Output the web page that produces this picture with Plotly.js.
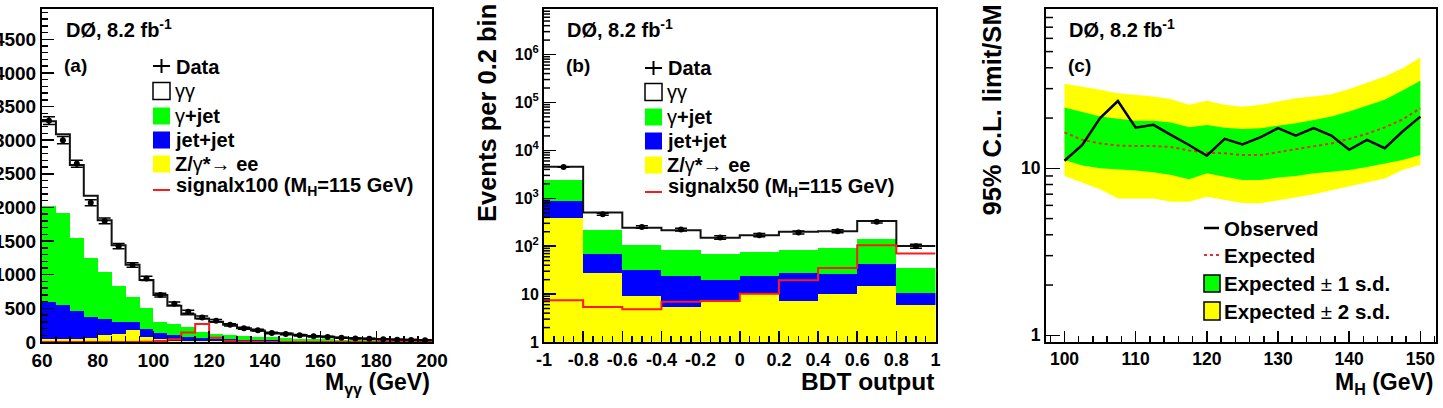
<!DOCTYPE html>
<html>
<head>
<meta charset="utf-8">
<script src="https://cdn.plot.ly/plotly-3.0.1.min.js"></script>
<style>
  html, body { margin: 0; padding: 0; background: #fff; }
  #plot { width: 1443px; height: 408px; }
</style>
</head>
<body>
<div id="plot"></div>
<script>
// ---------- (a) diphoton invariant mass, 5 GeV bins ----------
const massBinLow = [60, 65, 70, 75, 80, 85, 90, 95, 100, 105, 110, 115, 120, 125,
                    130, 135, 140, 145, 150, 155, 160, 165, 170, 175, 180, 185, 190, 195];
const massData   = [3290, 3000, 2650, 2070, 1800, 1425, 1145, 945, 697, 570, 450, 366, 316, 255,
                    205, 175, 135, 120, 100, 85, 75, 62, 52, 48, 40, 34, 30, 26];
const massGG     = [1262, 1175, 1077, 919, 766, 609, 487, 421, 400, 270, 192, 207, 181, 151,
                    116, 91, 65, 65, 53, 45, 40, 33, 28, 25, 22, 19, 17, 15];
const massGJ     = [1420, 1366, 1088, 880, 708, 529, 361, 311, 171, 166, 139, 79, 70, 64,
                    55, 51, 47, 41, 36, 32, 27, 23, 19, 16, 14, 12, 11, 9];
const massJJ     = [558, 507, 415, 311, 236, 182, 127, 108, 89, 82, 64, 54, 41, 33,
                    28, 23, 19, 16, 13, 11, 9, 7, 6, 6, 5, 4, 3, 3];
const massZee    = [40, 42, 50, 65, 100, 120, 175, 80, 40, 22, 15, 10, 8, 7,
                    6, 5, 4, 3, 3, 2, 2, 2, 2, 1, 1, 1, 1, 1];
const massSignal100 = [0, 0, 0, 0, 0, 0, 0, 2, 15, 40, 143, 267, 64, 20,
                       6, 2, 0, 0, 0, 0, 0, 0, 0, 0, 0, 0, 0, 0];

// ---------- (b) BDT output, 0.2 wide bins ----------
const bdtBinLow  = [-1, -0.8, -0.6, -0.4, -0.2, 0, 0.2, 0.4, 0.6, 0.8];
const bdtData    = [4500, 465, 252, 223, 152, 170, 194, 206, 322, 100];
const bdtGG      = [2170, 289, 136, 133, 81, 94, 114, 114, 193, 66];
const bdtGJ      = [1530, 148, 73.5, 58.5, 48, 52.5, 57.3, 65.2, 102, 24.4];
const bdtJJ      = [480, 41, 22.3, 18.1, 12.8, 13.5, 20.5, 16.8, 27.2, 4.8];
const bdtZee     = [390, 27, 9.2, 5.4, 7.2, 10, 7.2, 10, 14.8, 5.8];
const bdtSignal50 = [7.4, 5.4, 4.8, 6.9, 7.2, 10.2, 19.4, 35, 105, 70];
const bdtXTickVals = [-1, -0.8, -0.6, -0.4, -0.2, 0, 0.2, 0.4, 0.6, 0.8, 1];
const bdtXTickText = ['-1', '-0.8', '-0.6', '-0.4', '-0.2', '0', '0.2', '0.4', '0.6', '0.8', '1'];
const bdtTickVals = [1, 10, 100, 1e3, 1e4, 1e5, 1e6];
const bdtTickText = ['1', '10', '10<sup>2</sup>', '10<sup>3</sup>', '10<sup>4</sup>', '10<sup>5</sup>', '10<sup>6</sup>'];

// ---------- (c) 95% C.L. limits relative to SM ----------
const higgsMass = [100, 102.5, 105, 107.5, 110, 112.5, 115, 117.5, 120, 122.5, 125,
                   127.5, 130, 132.5, 135, 137.5, 140, 142.5, 145, 147.5, 150];
const limitObserved = [11.1, 13.8, 20.0, 25.3, 17.5, 18.2, 15.8, 13.8, 11.9, 15.0, 13.9,
                       15.3, 17.4, 15.7, 17.4, 15.7, 12.9, 14.8, 13.2, 16.6, 20.4];
const limitExpected = [16.4, 14.8, 14.1, 13.7, 13.6, 13.6, 13.4, 12.8, 12.4, 12.3, 12.0,
                       12.0, 12.5, 13.0, 13.5, 14.1, 15.0, 16.1, 17.6, 19.6, 22.9];
const limitPlus1  = [23.1, 21.6, 20.4, 19.8, 19.3, 19.3, 18.8, 17.6, 18.2, 17.5, 17.2,
                     17.4, 17.9, 18.6, 19.5, 20.4, 21.9, 23.7, 25.7, 29.2, 33.4];
const limitMinus1 = [11.2, 10.4, 10.0, 9.86, 9.7, 9.46, 9.12, 8.6, 9.33, 8.9, 8.5,
                     8.5, 8.8, 9.0, 9.33, 9.55, 9.77, 10.2, 10.7, 11.2, 12.0];
const limitPlus2  = [32.1, 30.9, 29.5, 28.2, 27.5, 26.9, 25.9, 24.0, 25.4, 24.0, 23.4,
                     24.0, 25.1, 26.3, 26.9, 27.8, 29.8, 32.4, 35.5, 39.8, 46.1];
const limitMinus2 = [9.0, 8.2, 7.5, 6.6, 6.6, 6.6, 6.3, 6.3, 6.76, 6.5, 6.2,
                     6.17, 6.45, 6.76, 7.0, 7.4, 7.8, 8.2, 8.7, 9.77, 10.5];
const limitTickVals = [1, 10];
const limitTickText = ['1', '10'];

// ---------- helpers ----------
const W = 1443, H = 408;
const FONT = 'Liberation Sans, Arial, Helvetica, sans-serif';
const GREEN = '#00ff00', BLUE = '#0000ff', YELLOW = '#ffff00', RED = '#ff1a1a';
const X = px => px / W;
const Y = py => 1 - py / H;
const PLOT_TOP = 9, PLOT_BOTTOM = 342;

function centers(low, width) { return low.map(v => v + width / 2); }

function barTrace(low, width, vals, color, xa, ya) {
  return { type: 'bar', x: centers(low, width), y: vals, width: width,
           marker: { color: color, line: { width: 0 } },
           xaxis: xa, yaxis: ya, hoverinfo: 'skip', showlegend: false };
}

function stepTrace(low, width, vals, color, lw, xa, ya) {
  const xs = low.concat([low[low.length - 1] + width]);
  const ys = vals.concat([vals[vals.length - 1]]);
  return { type: 'scatter', mode: 'lines', x: xs, y: ys,
           line: { shape: 'hv', color: color, width: lw },
           xaxis: xa, yaxis: ya, hoverinfo: 'skip', showlegend: false };
}

function dataTrace(low, width, vals, xa, ya) {
  return { type: 'scatter', mode: 'markers', x: centers(low, width), y: vals,
           marker: { color: 'black', size: 6 },
           error_y: { type: 'sqrt', visible: true, color: 'black', thickness: 1.5, width: 6 },
           xaxis: xa, yaxis: ya, hoverinfo: 'skip', showlegend: false };
}

function sumOf(...arrs) { return arrs[0].map((_, i) => arrs.reduce((s, a) => s + a[i], 0)); }

const traces = [];

// (a) stacked backgrounds
traces.push(barTrace(massBinLow, 5, massZee, YELLOW, 'x', 'y'));
traces.push(barTrace(massBinLow, 5, massJJ, BLUE, 'x', 'y'));
traces.push(barTrace(massBinLow, 5, massGJ, GREEN, 'x', 'y'));
traces.push(barTrace(massBinLow, 5, massGG, '#ffffff', 'x', 'y'));
traces.push(stepTrace(massBinLow, 5, sumOf(massZee, massJJ, massGJ, massGG), '#111', 2, 'x', 'y'));
traces.push(stepTrace(massBinLow, 5, massSignal100, RED, 2, 'x', 'y'));
traces.push(dataTrace(massBinLow, 5, massData, 'x', 'y'));

// (b) stacked backgrounds on a log scale
traces.push(barTrace(bdtBinLow, 0.2, bdtZee, YELLOW, 'x2', 'y2'));
traces.push(barTrace(bdtBinLow, 0.2, bdtJJ, BLUE, 'x2', 'y2'));
traces.push(barTrace(bdtBinLow, 0.2, bdtGJ, GREEN, 'x2', 'y2'));
traces.push(barTrace(bdtBinLow, 0.2, bdtGG, '#ffffff', 'x2', 'y2'));
traces.push(stepTrace(bdtBinLow, 0.2, sumOf(bdtZee, bdtJJ, bdtGJ, bdtGG), '#111', 2, 'x2', 'y2'));
traces.push(stepTrace(bdtBinLow, 0.2, bdtSignal50, RED, 2, 'x2', 'y2'));
traces.push(dataTrace(bdtBinLow, 0.2, bdtData, 'x2', 'y2'));

// (c) limit bands and curves
const band = (y, fill, color) => ({ type: 'scatter', mode: 'lines', x: higgsMass, y: y,
  line: { width: 0, color: color || 'rgba(0,0,0,0)' }, fill: fill || 'none', fillcolor: color,
  xaxis: 'x3', yaxis: 'y3', hoverinfo: 'skip', showlegend: false });
traces.push(band(limitMinus2));
traces.push(band(limitPlus2, 'tonexty', YELLOW));
traces.push(band(limitMinus1));
traces.push(band(limitPlus1, 'tonexty', GREEN));
traces.push({ type: 'scatter', mode: 'lines', x: higgsMass, y: limitExpected,
  line: { color: '#e0302a', width: 2, dash: 'dot' }, xaxis: 'x3', yaxis: 'y3',
  hoverinfo: 'skip', showlegend: false });
traces.push({ type: 'scatter', mode: 'lines', x: higgsMass, y: limitObserved,
  line: { color: '#000', width: 2.5 }, xaxis: 'x3', yaxis: 'y3',
  hoverinfo: 'skip', showlegend: false });

// ---------- axes ----------
const yDomain = [Y(PLOT_BOTTOM), Y(PLOT_TOP)];
function axisBase(extra) {
  return Object.assign({
    showline: true, mirror: true, linewidth: 2, linecolor: 'black',
    showgrid: false, zeroline: false, ticks: 'inside', tickcolor: 'black',
    tickwidth: 1.5, fixedrange: true,
    tickfont: { family: FONT, size: 18, color: 'black', weight: 'bold' }
  }, extra);
}

const Y2_RANGE = [0, 6.95];
const Y3_RANGE = [-0.04, 1.954];

const layout = {
  width: W, height: H,
  margin: { l: 0, r: 0, t: 0, b: 0 },
  paper_bgcolor: '#fff', plot_bgcolor: '#fff',
  barmode: 'stack', bargap: 0,
  showlegend: false,
  font: { family: FONT, color: 'black', weight: 'bold' },
  xaxis: axisBase({ domain: [X(42), X(432)], anchor: 'y', range: [60, 200],
    tickmode: 'linear', tick0: 60, dtick: 20, ticklen: 11,
    minor: { tick0: 60, dtick: 5, ticks: 'inside', ticklen: 6, tickwidth: 1.5, tickcolor: 'black' },
    tickfont: { family: FONT, size: 19, color: 'black', weight: 'bold' } }),
  yaxis: axisBase({ domain: yDomain, anchor: 'x', range: [0, 4950],
    tickmode: 'linear', tick0: 0, dtick: 500, ticklen: 12,
    minor: { tick0: 0, dtick: 100, ticks: 'inside', ticklen: 6, tickwidth: 1.5, tickcolor: 'black' },
    tickfont: { family: FONT, size: 19, color: 'black', weight: 'bold' } }),
  xaxis2: axisBase({ domain: [X(544), X(935.5)], anchor: 'y2', range: [-1, 1],
    tickmode: 'array', tickvals: bdtXTickVals, ticktext: bdtXTickText, ticklen: 11,
    minor: { tickmode: 'linear', tick0: -1, dtick: 0.05, ticks: 'inside', ticklen: 6, tickwidth: 1.5, tickcolor: 'black' } }),
  yaxis2: axisBase({ domain: yDomain, anchor: 'x2', type: 'log', range: Y2_RANGE,
    tickmode: 'array', tickvals: bdtTickVals, ticktext: bdtTickText, ticklen: 12,
    tickfont: { family: FONT, size: 16, color: 'black', weight: 'bold' } }),
  xaxis3: axisBase({ domain: [X(1046), X(1436)], anchor: 'y3', range: [97.4, 152.2],
    tickmode: 'linear', tick0: 100, dtick: 10, ticklen: 11,
    minor: { tick0: 100, dtick: 2, ticks: 'inside', ticklen: 6, tickwidth: 1.5, tickcolor: 'black' },
    tickfont: { family: FONT, size: 17.5, color: 'black', weight: 'bold' } }),
  yaxis3: axisBase({ domain: yDomain, anchor: 'x3', type: 'log', range: Y3_RANGE,
    tickmode: 'array', tickvals: limitTickVals, ticktext: limitTickText, ticklen: 14,
    tickfont: { family: FONT, size: 17.5, color: 'black', weight: 'bold' } })
};

// ---------- texts ----------
const ann = [];
function text(x, y, t, size, opts) {
  ann.push(Object.assign({ xref: 'paper', yref: 'paper', x: X(x), y: Y(y), text: t,
    showarrow: false, xanchor: 'left', yanchor: 'middle',
    font: { family: FONT, size: size, color: 'black', weight: 'bold' } }, opts || {}));
}
const thin = s => '<span style="font-weight:normal">' + s + '</span>';

// panel headers
text(64, 29, 'DØ, 8.2 fb<sup>-1</sup>', 20);
text(62, 65, '(a)', 19);
text(565, 29, 'DØ, 8.2 fb<sup>-1</sup>', 20);
text(564, 65, '(b)', 19);
text(1067, 29, 'DØ, 8.2 fb<sup>-1</sup>', 20);
text(1066, 65, '(c)', 19);

// legend of (a) and (b)
function histLegend(x0, rows, sigText) {
  text(x0 + 21, rows[0], 'Data', 20);
  text(x0 + 20, rows[1], thin('γγ'), 20);
  text(x0 + 20, rows[2], thin('γ') + '+jet', 20);
  text(x0 + 20, rows[3], 'jet+jet', 20);
  text(x0 + 20, rows[4], 'Z/' + thin('γ') + '*' + thin('→') + ' ee', 20);
  text(x0 + 21, rows[5] - 2, sigText, 20);
}
histLegend(153, [67, 91, 116, 140, 164, 189], 'signalx100 (M<sub>H</sub>=115 GeV)');
histLegend(645, [68, 92, 117, 141, 165, 190], 'signalx50 (M<sub>H</sub>=115 GeV)');

// legend of (c)
text(1222, 228, 'Observed', 20.5);
text(1222, 255, 'Expected', 20.5);
text(1222, 283, 'Expected' + thin(' ± ') + '1 s.d.', 20.5);
text(1222, 311, 'Expected' + thin(' ± ') + '2 s.d.', 20.5);

// axis titles
text(432, 383, 'M<sub>γγ</sub> (GeV)', 23, { xanchor: 'right' });
text(936, 381, 'BDT output', 24.5, { xanchor: 'right' });
text(1436, 383, 'M<sub>H</sub> (GeV)', 23, { xanchor: 'right' });
text(487, 2, 'Events per 0.2 bin', 25.5, { xanchor: 'center', yanchor: 'top', textangle: -90 });
text(991, 2, '95% C.L. limit/SM', 25.5, { xanchor: 'center', yanchor: 'top', textangle: -90 });

layout.annotations = ann;

// ---------- shapes: log-axis minor ticks and legend symbols ----------
const shapes = [];
function rect(x0, y0, x1, y1, fill, line) {
  shapes.push({ type: 'rect', xref: 'paper', yref: 'paper', x0: X(x0), x1: X(x1), y0: Y(y1), y1: Y(y0),
    fillcolor: fill, line: line ? { color: line, width: 1.5 } : { width: 0 } });
}
function seg(x0, y0, x1, y1, color, width, dash) {
  shapes.push({ type: 'line', xref: 'paper', yref: 'paper', x0: X(x0), x1: X(x1), y0: Y(y0), y1: Y(y1),
    line: { color: color, width: width, dash: dash || 'solid' } });
}

// minor ticks at 2..9 x 10^n along a log y axis whose left edge is at pixel xLeft
function logMinorTicks(xLeft, range, len) {
  for (let d = Math.floor(range[0]); d < Math.ceil(range[1]); d++) {
    for (let k = 2; k <= 9; k++) {
      const lv = Math.log10(k) + d;
      if (lv <= range[0] || lv >= range[1]) continue;
      const py = PLOT_BOTTOM - (lv - range[0]) / (range[1] - range[0]) * (PLOT_BOTTOM - PLOT_TOP);
      seg(xLeft, py, xLeft + len, py, 'black', 1.5);
    }
  }
}
logMinorTicks(544, Y2_RANGE, 6);
logMinorTicks(1046, Y3_RANGE, 7);

function histSymbols(x0, rows) {
  seg(x0, rows[0], x0 + 17, rows[0], 'black', 2);
  seg(x0 + 8.5, rows[0] - 7, x0 + 8.5, rows[0] + 7, 'black', 2);
  rect(x0, rows[1] - 8.5, x0 + 17, rows[1] + 8.5, '#ffffff', 'black');
  rect(x0, rows[2] - 8.5, x0 + 17, rows[2] + 8.5, GREEN);
  rect(x0, rows[3] - 8.5, x0 + 17, rows[3] + 8.5, BLUE);
  rect(x0, rows[4] - 8.5, x0 + 17, rows[4] + 8.5, YELLOW);
  seg(x0, rows[5], x0 + 17, rows[5], RED, 2);
}
histSymbols(153, [66, 91, 116, 140, 164, 190]);
histSymbols(645, [68, 92, 117, 141, 165, 192]);

seg(1204, 228, 1219, 228, 'black', 2.5);
seg(1204, 255, 1219, 255, '#e0302a', 2, 'dot');
rect(1204, 275, 1220, 292, GREEN, 'black');
rect(1204, 302, 1220, 320, YELLOW, 'black');

layout.shapes = shapes;

Plotly.newPlot('plot', traces, layout, { staticPlot: true, displayModeBar: false });
</script>
</body>
</html>
